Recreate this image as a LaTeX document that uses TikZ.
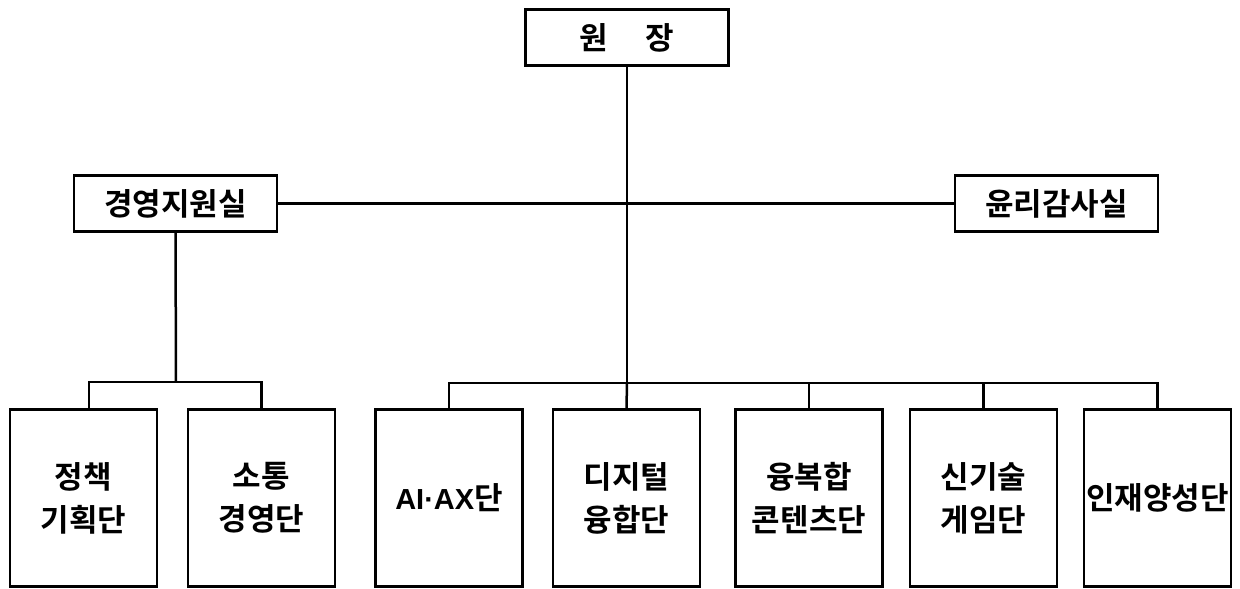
\documentclass[tikz,border=0pt]{standalone}
\usepackage{fontspec}
\setmainfont{Noto Sans CJK KR}[BoldFont={Noto Sans CJK KR Bold}]
\newfontfamily\latb{Liberation Sans}[BoldFont={* Bold}]
\begin{document}
\begin{tikzpicture}[x=1pt,y=-1pt,
  box/.style={draw=black,line width=2.5pt,inner sep=0pt,align=center,
    font=\fontsize{31}{43}\selectfont\bfseries},
  topbox/.style={box,minimum width=203pt,minimum height=56pt},
  unitbox/.style={box,minimum width=147pt,minimum height=177pt},
  conn/.style={line width=2.5pt}]
\useasboundingbox (0,0) rectangle (1240,589);
\node[topbox] (head) at (627,37.5) {원\hspace{1.2em}장};
\node[topbox] (mgmt) at (175.5,203.5) {경영지원실};
\node[topbox] (audit) at (1056.5,203.5) {윤리감사실};
\node[unitbox] (b1) at (83.5,498) {정책\\기획단};
\node[unitbox] (b2) at (261.5,498) {소통\\경영단};
\node[unitbox] (b3) at (449,498) {{\latb\fontsize{29}{43}\selectfont\bfseries AI·AX}단};
\node[unitbox] (b4) at (626.5,498) {디지털\\융합단};
\node[unitbox] (b5) at (809,498) {융복합\\콘텐츠단};
\node[unitbox] (b6) at (983.5,498) {신기술\\게임단};
\node[unitbox] (b7) at (1157.5,498) {인재양성단};
\coordinate (lb) at (176,382);
\coordinate (rb) at (627,383);
\draw[conn] (mgmt.east) -- (audit.west);
\draw[conn] (head.south) -- (rb);
\draw[conn] (mgmt.south) -- (lb);
\draw[conn] ([xshift=5.5pt]b1.north) |- (lb) -| (b2.north);
\draw[conn] (b3.north) |- (rb) -| (b7.north);
\draw[conn] (b5.north) -- (b5.north |- rb);
\draw[conn] (b6.north) -- (b6.north |- rb);
\draw[conn] (b4.north) -- (rb);
\end{tikzpicture}
\end{document}
